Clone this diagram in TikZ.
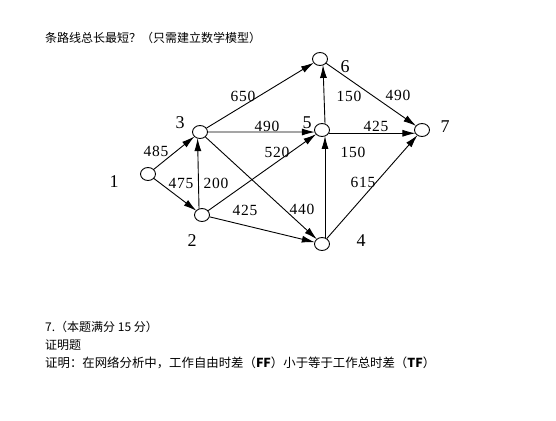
\documentclass[tikz,border=0pt]{standalone}
\usepackage{fontspec}
\setmainfont{Liberation Serif}
\newfontfamily\cjk{Noto Sans CJK SC}
\newfontfamily\wtfont[LetterSpace=5]{Liberation Serif}
\usetikzlibrary{arrows.meta,shapes.geometric}
\begin{document}
\begin{tikzpicture}[x=1pt,y=-1pt,
  vtx/.style={ellipse,draw,line width=0.9pt,minimum width=15pt,minimum height=13pt,inner sep=0pt},
  arr/.style={-{Latex[length=13pt,width=7pt]},line width=0.9pt,shorten >=-0.5pt},
  wt/.style={font=\wtfont\fontsize{15.5}{15.5}\selectfont,inner sep=0pt},
  vl/.style={font=\fontsize{18}{18}\selectfont,inner sep=0pt},
  cn/.style={font=\cjk\fontsize{12}{12}\selectfont,anchor=west,inner sep=0pt}]
\useasboundingbox (0,0) rectangle (556,420);
% vertices
\node[vtx] (n1) at (148,174) {};
\node[vtx] (n3) at (200,132) {};
\node[vtx] (n2) at (202,215) {};
\node[vtx] (n5) at (322,130) {};
\node[vtx] (n6) at (320,59) {};
\node[vtx] (n4) at (322,244) {};
\node[vtx] (n7) at (422,130) {};
% vertex labels
\node[vl] (l1) at (114,182) {1};
\node[vl] (l3) at (180,123) {3};
\node[vl] (l2) at (192,241) {2};
\node[vl] (l5) at (307,123) {5};
\node[vl] (l6) at (345,67) {6};
\node[vl] (l7) at (445,127) {7};
\node[vl] (l4) at (361,241) {4};
% arcs
\draw[arr] (n1) -- (n3);
\draw[arr] (n1) -- (n2);
\draw[arr] (n2.115) -- (n3.250);
\draw[arr] (n3) -- (n6);
\draw[arr] (n3.east) -- (n5.195);
\draw[arr] (n2) -- (n5);
\draw[arr] (n3) -- (n4);
\draw[arr] (n2) -- (n4);
\draw[arr] (n5.65) -- (n6.-65);
\draw[arr] (n4.65) -- (n5.-65);
\draw[arr] (n6) -- (n7);
\draw[arr] (n5.-25) -- (n7.205);
\draw[arr] (n4) -- (n7);
% weights
\node[wt] (w13) at (156,151) {485};
\node[wt] (w12) at (181,183) {475};
\node[wt] (w23) at (216,183) {200};
\node[wt] (w36) at (243,96) {650};
\node[wt] (w35) at (267,126) {490};
\node[wt] (w25) at (277,152) {520};
\node[wt] (w24) at (245,210) {425};
\node[wt] (w34) at (302,209) {440};
\node[wt] (w56) at (349,96) {150};
\node[wt] (w67) at (398,95) {490};
\node[wt] (w57) at (376,126) {425};
\node[wt] (w45) at (353,152) {150};
\node[wt] (w47) at (363,182) {615};
% texts
\node[cn] (t1) at (45,38) {条路线总长最短？（只需建立数学模型）};
\node[cn] (t2) at (45,327) {7.（本题满分 15 分）};
\node[cn] (t3) at (45,345) {证明题};
\node[cn,font=\cjk\fontsize{12.4}{12.4}\selectfont] (t4) at (45,363) {证明：在网络分析中，工作自由时差（\textbf{FF}）小于等于工作总时差（\textbf{TF}）};
\end{tikzpicture}
\end{document}
